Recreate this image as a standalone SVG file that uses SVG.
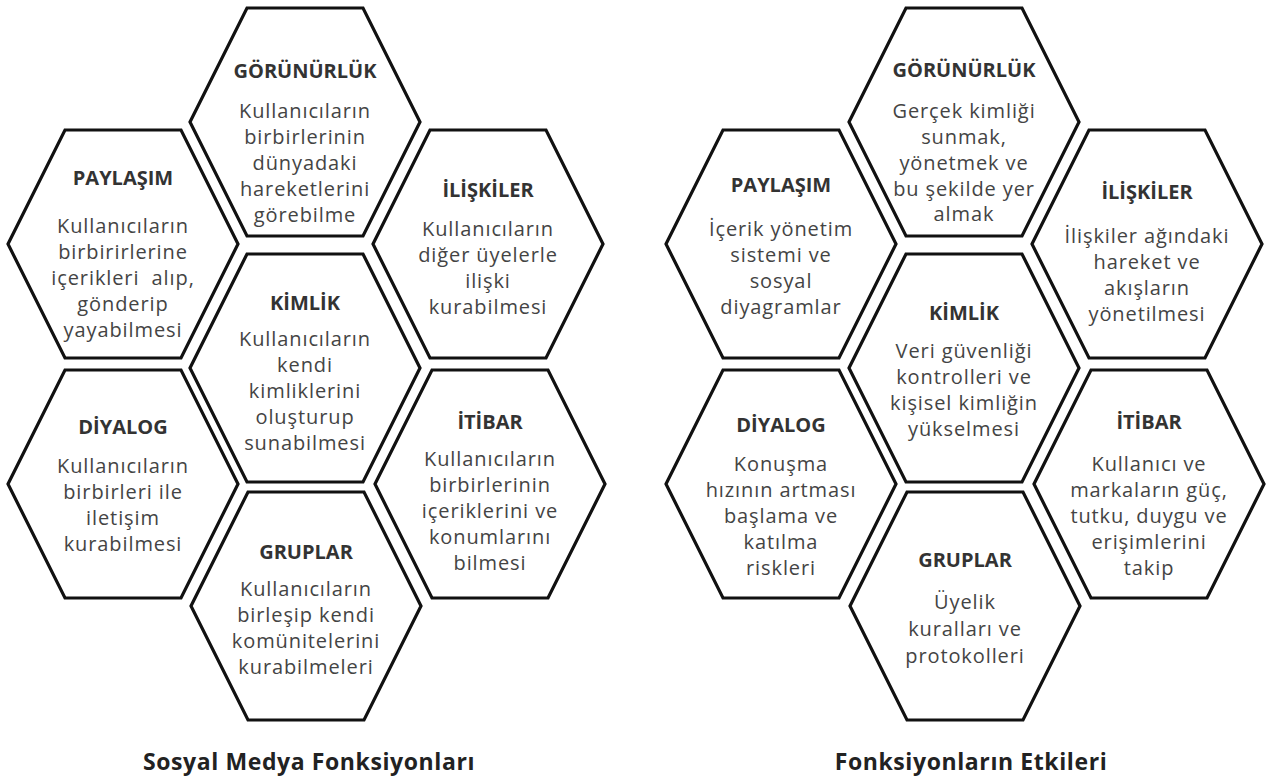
<svg xmlns="http://www.w3.org/2000/svg" xmlns:xlink="http://www.w3.org/1999/xlink" width="1280" height="778" viewBox="0 0 1280 778">
<defs>
<style>
.hex{fill:#fff;stroke:#111;stroke-width:3.2;stroke-linejoin:miter}
.h{font-family:"Open Sans","Liberation Sans",sans-serif;font-weight:bold;font-size:20px;fill:#333;text-anchor:middle}
.b{font-family:"Open Sans","Liberation Sans",sans-serif;font-size:20px;fill:#444;text-anchor:middle;letter-spacing:0.9px}
.t{font-family:"Open Sans","Liberation Sans",sans-serif;font-weight:bold;font-size:23px;fill:#222;text-anchor:middle;letter-spacing:0.6px}
</style>
<polygon id="hx" class="hex" points="-115,0 -58,-114 58,-114 115,0 58,114 -58,114"/>
</defs>
<rect width="1280" height="778" fill="#fff"/>

<g id="left-cluster">
<g id="l-gorunurluk" transform="translate(305,122)">
<use xlink:href="#hx"/>
<text class="h" y="-44">GÖRÜNÜRLÜK</text>
<text class="b" y="-4">Kullanıcıların</text>
<text class="b" y="22">birbirlerinin</text>
<text class="b" y="48">dünyadaki</text>
<text class="b" y="74">hareketlerini</text>
<text class="b" y="100">görebilme</text>
</g>
<g id="l-paylasim" transform="translate(123,244)">
<use xlink:href="#hx"/>
<text class="h" y="-59">PAYLAŞIM</text>
<text class="b" y="-11">Kullanıcıların</text>
<text class="b" y="15">birbirirlerine</text>
<text class="b" y="41" xml:space="preserve">içerikleri  alıp,</text>
<text class="b" y="67">gönderip</text>
<text class="b" y="93">yayabilmesi</text>
</g>
<g id="l-iliskiler" transform="translate(488,244)">
<use xlink:href="#hx"/>
<text class="h" y="-47">İLİŞKİLER</text>
<text class="b" y="-8">Kullanıcıların</text>
<text class="b" y="18">diğer üyelerle</text>
<text class="b" y="44">ilişki</text>
<text class="b" y="70">kurabilmesi</text>
</g>
<g id="l-kimlik" transform="translate(305,368)">
<use xlink:href="#hx"/>
<text class="h" y="-58">KİMLİK</text>
<text class="b" y="-22">Kullanıcıların</text>
<text class="b" y="4">kendi</text>
<text class="b" y="30">kimliklerini</text>
<text class="b" y="56">oluşturup</text>
<text class="b" y="82">sunabilmesi</text>
</g>
<g id="l-diyalog" transform="translate(123,484)">
<use xlink:href="#hx"/>
<text class="h" y="-50">DİYALOG</text>
<text class="b" y="-11">Kullanıcıların</text>
<text class="b" y="15">birbirleri ile</text>
<text class="b" y="41">iletişim</text>
<text class="b" y="67">kurabilmesi</text>
</g>
<g id="l-itibar" transform="translate(490,484)">
<use xlink:href="#hx"/>
<text class="h" y="-55">İTİBAR</text>
<text class="b" y="-18">Kullanıcıların</text>
<text class="b" y="8">birbirlerinin</text>
<text class="b" y="34">içeriklerini ve</text>
<text class="b" y="60">konumlarını</text>
<text class="b" y="86">bilmesi</text>
</g>
<g id="l-gruplar" transform="translate(306,606)">
<use xlink:href="#hx"/>
<text class="h" y="-47">GRUPLAR</text>
<text class="b" y="-10">Kullanıcıların</text>
<text class="b" y="16">birleşip kendi</text>
<text class="b" y="42">komünitelerini</text>
<text class="b" y="68">kurabilmeleri</text>
</g>
<text id="l-title" class="t" x="309" y="770">Sosyal Medya Fonksiyonları</text>
</g>

<g id="right-cluster">
<g id="r-gorunurluk" transform="translate(964,122)">
<use xlink:href="#hx"/>
<text class="h" y="-45">GÖRÜNÜRLÜK</text>
<text class="b" y="-4">Gerçek kimliği</text>
<text class="b" y="22">sunmak,</text>
<text class="b" y="48">yönetmek ve</text>
<text class="b" y="74">bu şekilde yer</text>
<text class="b" y="99">almak</text>
</g>
<g id="r-paylasim" transform="translate(781,244)">
<use xlink:href="#hx"/>
<text class="h" y="-52">PAYLAŞIM</text>
<text class="b" y="-8">İçerik yönetim</text>
<text class="b" y="18">sistemi ve</text>
<text class="b" y="44">sosyal</text>
<text class="b" y="70">diyagramlar</text>
</g>
<g id="r-iliskiler" transform="translate(1147,244)">
<use xlink:href="#hx"/>
<text class="h" y="-45">İLİŞKİLER</text>
<text class="b" y="-1">İlişkiler ağındaki</text>
<text class="b" y="25">hareket ve</text>
<text class="b" y="51">akışların</text>
<text class="b" y="77">yönetilmesi</text>
</g>
<g id="r-kimlik" transform="translate(964,368)">
<use xlink:href="#hx"/>
<text class="h" y="-48">KİMLİK</text>
<text class="b" y="-10">Veri güvenliği</text>
<text class="b" y="16">kontrolleri ve</text>
<text class="b" y="42">kişisel kimliğin</text>
<text class="b" y="68">yükselmesi</text>
</g>
<g id="r-diyalog" transform="translate(781,484)">
<use xlink:href="#hx"/>
<text class="h" y="-52">DİYALOG</text>
<text class="b" y="-13">Konuşma</text>
<text class="b" y="13">hızının artması</text>
<text class="b" y="39">başlama ve</text>
<text class="b" y="65">katılma</text>
<text class="b" y="91">riskleri</text>
</g>
<g id="r-itibar" transform="translate(1149,484)">
<use xlink:href="#hx"/>
<text class="h" y="-55">İTİBAR</text>
<text class="b" y="-13">Kullanıcı ve</text>
<text class="b" y="13">markaların güç,</text>
<text class="b" y="39">tutku, duygu ve</text>
<text class="b" y="65">erişimlerini</text>
<text class="b" y="91">takip</text>
</g>
<g id="r-gruplar" transform="translate(965,606)">
<use xlink:href="#hx"/>
<text class="h" y="-39">GRUPLAR</text>
<text class="b" y="3">Üyelik</text>
<text class="b" y="30">kuralları ve</text>
<text class="b" y="57">protokolleri</text>
</g>
<text id="r-title" class="t" x="971" y="770">Fonksiyonların Etkileri</text>
</g>
</svg>
